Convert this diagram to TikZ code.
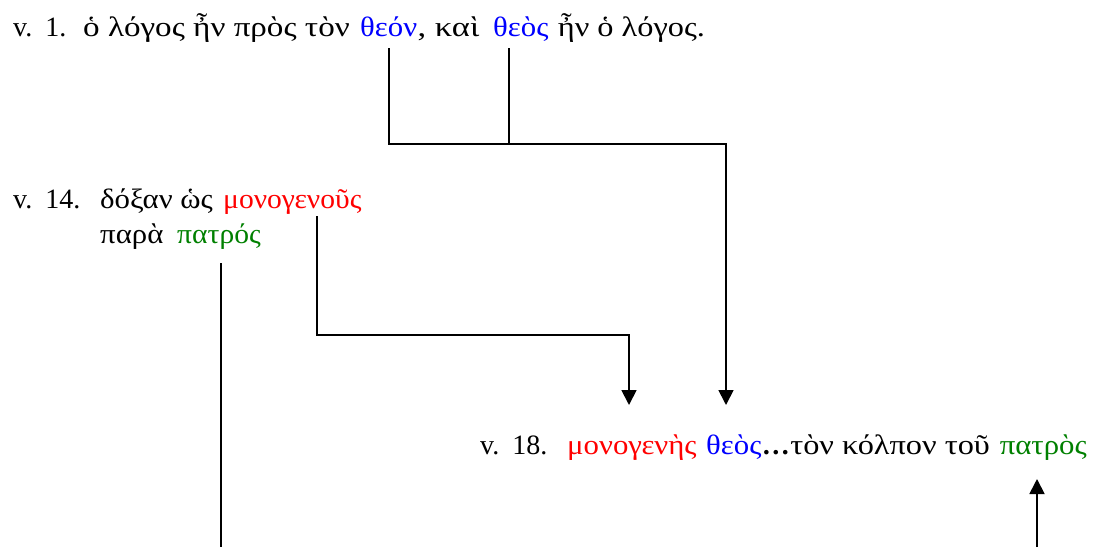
\documentclass[tikz,border=0pt]{standalone}
\usepackage{fontspec}
\usepackage{graphicx}
\setmainfont{Liberation Serif}
\newfontfamily\gr[FakeStretch=1.1]{Liberation Serif}
\usetikzlibrary{arrows.meta}
\definecolor{gblue}{RGB}{0,0,255}
\definecolor{gred}{RGB}{255,0,0}
\definecolor{ggreen}{RGB}{0,128,0}
\newcommand\vsp{\hspace{13pt}}
\newcommand\sx[2]{\scalebox{#1}[1]{#2}}
\begin{document}
\begin{tikzpicture}[x=1pt,y=-1pt,
  txt/.style={anchor=base west, inner sep=0pt, font=\fontsize{28}{34}\selectfont},
  grk/.style={txt, font=\fontsize{28}{34}\selectfont\gr},
  conn/.style={line width=1.8pt},
  arr/.style={conn,-{Triangle[length=15pt,width=15pt]}}]
\useasboundingbox (0,0) rectangle (1103,547);
% verse 1
\node[txt] (v1) at (13,36) {v.\vsp1.};
\node[grk] (l1a) at (83,36) {\sx{1.075}{ὁ λόγος ἦν πρὸς τὸν}};
\node[grk,text=gblue] (n1a) at (360,36) {θεόν};
\node[grk] (l1b) at (n1a.base east) {\sx{1.12}{, καὶ}};
\node[grk,text=gblue] (n1b) at (493,36) {θεὸς};
\node[grk] (l1c) at ([xshift=9pt]n1b.base east) {\sx{1.05}{ἦν ὁ λόγος.}};
% verse 14
\node[txt] (v14) at (13,208) {v.\vsp14.};
\node[grk] (l14a) at (100,208) {δόξαν ὡς};
\node[grk,text=gred] (n14a) at (223,208) {\sx{0.96}{μονογενοῦς}};
\node[grk] (l14b) at (100,243) {παρὰ};
\node[grk,text=ggreen] (n14b) at (177,243) {\sx{0.96}{πατρός}};
% verse 18
\node[txt] (v18) at (480,454) {v.\vsp18.};
\node[grk,text=gred] (n18a) at (567,454) {μονογενὴς};
\node[grk,text=gblue] (n18b) at (706,454) {θεὸς};
\node[txt] (l18) at (n18b.base east) {{\bfseries…}};
\node[grk] (l18b) at (l18.base east) {\sx{1.05}{τὸν κόλπον τοῦ}};
\node[grk,text=ggreen,anchor=base east] (n18c) at (1087,454) {πατρὸς};
% levels
\coordinate (t1) at (0,48);
\coordinate (j1) at (0,144);
\coordinate (t14) at (0,216);
\coordinate (j14) at (0,335);
\coordinate (t14b) at (0,263);
\coordinate (tip18) at (0,405);
\coordinate (tip18c) at (0,479);
\coordinate (bot) at (0,547);
% connectors
\draw[arr] ([xshift=29pt]n1a.base west |- t1) -- ([xshift=29pt]n1a.base west |- j1)
  -- ([xshift=20pt]n18b.base west |- j1) -- ([xshift=20pt]n18b.base west |- tip18);
\draw[conn] ([xshift=16pt]n1b.base west |- t1) -- ([xshift=16pt]n1b.base west |- j1);
\draw[arr] ([xshift=94pt]n14a.base west |- t14) -- ([xshift=94pt]n14a.base west |- j14)
  -- ([xshift=62pt]n18a.base west |- j14) -- ([xshift=62pt]n18a.base west |- tip18);
\draw[conn] ([xshift=44pt]n14b.base west |- t14b) -- ([xshift=44pt]n14b.base west |- bot);
\draw[arr] ([xshift=-50pt]n18c.base east |- bot) -- ([xshift=-50pt]n18c.base east |- tip18c);
\end{tikzpicture}
\end{document}
